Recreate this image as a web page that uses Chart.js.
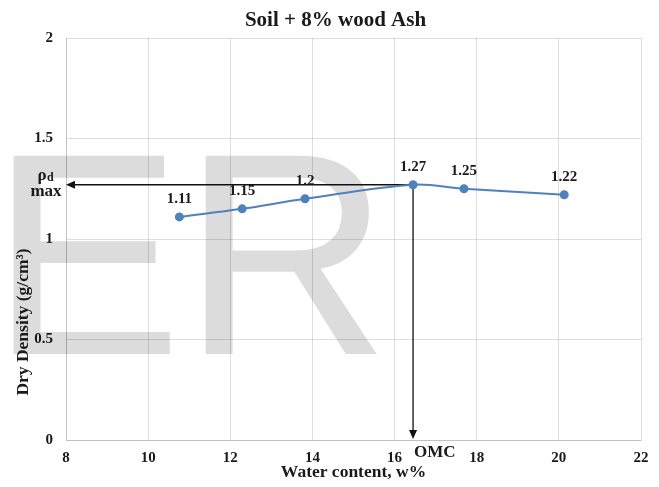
<!DOCTYPE html>
<html>
<head>
<meta charset="utf-8">
<script src="https://cdn.jsdelivr.net/npm/chart.js@4.4.1/dist/chart.umd.min.js"></script>
<style>
  html, body { margin: 0; padding: 0; background: #ffffff; }
  #c { display: block; background: #ffffff; }
</style>
</head>
<body>
<canvas id="c" width="659" height="487"></canvas>
<script>
// Compaction test: soil mixed with 8% wood ash
const chartTitle = 'Soil + 8% wood Ash';
const xAxisTitle = 'Water content, w%';
const yAxisTitle = 'Dry Density (g/cm³)';
const watermarkText = 'ER';

const waterContent = [10.76, 12.29, 13.82, 16.45, 17.69, 20.13];   // w, %
const dryDensity   = [1.11, 1.15, 1.2, 1.27, 1.25, 1.22];           // g/cm³
const densityLabels = ['1.11', '1.15', '1.2', '1.27', '1.25', '1.22'];

const xRange = [8, 22];
const xStep = 2;
const yRange = [0, 2];
const yStep = 0.5;

const SERIF = '"Liberation Serif", "Times New Roman", Times, serif';
const INK = '#1a1a1a';
const GRID = 'rgba(0,0,0,0.13)';
const SERIES_BLUE = '#4f81bd';

const points = waterContent.map((w, i) => ({ x: w, y: dryDensity[i] }));
const peak = dryDensity.indexOf(Math.max(...dryDensity));

function arrowHead(ctx, tipX, tipY, dir) {
  const len = 9, half = 4;
  ctx.beginPath();
  if (dir === 'left') {
    ctx.moveTo(tipX, tipY);
    ctx.lineTo(tipX + len, tipY - half);
    ctx.lineTo(tipX + len, tipY + half);
  } else {
    ctx.moveTo(tipX, tipY);
    ctx.lineTo(tipX - half, tipY - len);
    ctx.lineTo(tipX + half, tipY - len);
  }
  ctx.closePath();
  ctx.fill();
}

const decorations = {
  id: 'decorations',
  beforeDraw(chart) {
    const ctx = chart.ctx;
    ctx.save();
    ctx.fillStyle = '#dcdcdc';
    ctx.font = '288px "Liberation Sans", Arial, sans-serif';
    ctx.textBaseline = 'alphabetic';
    ctx.textAlign = 'left';
    ctx.fillText(watermarkText, -10, 354);
    ctx.restore();
  },
  beforeDatasetsDraw(chart) {
    // guide arrows from the maximum dry density point to both axes
    const { ctx, chartArea, scales } = chart;
    const px = scales.x.getPixelForValue(waterContent[peak]);
    const py = scales.y.getPixelForValue(dryDensity[peak]);
    ctx.save();
    ctx.strokeStyle = '#111111';
    ctx.fillStyle = '#111111';
    ctx.lineWidth = 1.3;
    ctx.beginPath();
    ctx.moveTo(px, py);
    ctx.lineTo(chartArea.left + 6, py);
    ctx.moveTo(px, py);
    ctx.lineTo(px, chartArea.bottom - 6);
    ctx.stroke();
    arrowHead(ctx, chartArea.left, py, 'left');
    arrowHead(ctx, px, chartArea.bottom - 1, 'down');
    ctx.restore();
  },
  afterDatasetsDraw(chart) {
    const { ctx, chartArea, scales } = chart;
    ctx.save();
    ctx.fillStyle = INK;
    ctx.textBaseline = 'alphabetic';

    // value labels above each point
    ctx.font = 'bold 15px ' + SERIF;
    ctx.textAlign = 'center';
    points.forEach((p, i) => {
      const x = scales.x.getPixelForValue(p.x);
      const y = scales.y.getPixelForValue(p.y);
      ctx.fillText(densityLabels[i], x, y - 14);
    });

    // ρd max marker next to the y axis
    const py = scales.y.getPixelForValue(dryDensity[peak]);
    const lx = chartArea.left - 20;
    ctx.font = 'bold 17px ' + SERIF;
    ctx.textAlign = 'right';
    ctx.fillText('ρ', lx + 0.5, py - 5);
    ctx.font = 'bold 12px ' + SERIF;
    ctx.textAlign = 'left';
    ctx.fillText('d', lx + 1, py - 4);
    ctx.font = 'bold 17px ' + SERIF;
    ctx.textAlign = 'center';
    ctx.fillText('max', lx, py + 11);

    // OMC marker under the x axis
    const px = scales.x.getPixelForValue(waterContent[peak]);
    ctx.textAlign = 'left';
    ctx.font = 'bold 17px ' + SERIF;
    ctx.fillText('OMC', px + 1, chartArea.bottom + 17);

    // chart title
    ctx.font = 'bold 21px ' + SERIF;
    ctx.textAlign = 'center';
    ctx.fillText(chartTitle, 335.5, 26);

    // y axis title
    ctx.translate(28, 322);
    ctx.rotate(-Math.PI / 2);
    ctx.font = 'bold 17.5px ' + SERIF;
    ctx.textAlign = 'center';
    ctx.fillText(yAxisTitle, 0, 0);
    ctx.restore();
  }
};

new Chart(document.getElementById('c'), {
  type: 'scatter',
  data: {
    datasets: [{
      data: points,
      showLine: true,
      tension: 0.35,
      borderColor: SERIES_BLUE,
      borderWidth: 2,
      backgroundColor: SERIES_BLUE,
      pointBackgroundColor: SERIES_BLUE,
      pointBorderColor: SERIES_BLUE,
      pointRadius: 3.5,
      pointHoverRadius: 3.5
    }]
  },
  options: {
    responsive: false,
    animation: false,
    events: [],
    layout: { padding: { top: 38, right: 18, left: 0, bottom: 0 } },
    plugins: {
      legend: { display: false },
      tooltip: { enabled: false },
      title: { display: false }
    },
    scales: {
      x: {
        type: 'linear',
        min: xRange[0],
        max: xRange[1],
        afterFit(s) { s.height = 47; },
        ticks: {
          stepSize: xStep,
          color: INK,
          padding: 9,
          maxRotation: 0,
          callback: (v) => String(v),
          font: { family: SERIF, size: 15, weight: 'bold' }
        },
        grid: { color: GRID, lineWidth: 1, drawTicks: false },
        border: { display: true, color: GRID },
        title: {
          display: true,
          text: xAxisTitle,
          color: INK,
          padding: { top: 5, bottom: 4 },
          font: { family: SERIF, size: 17.5, weight: 'bold' }
        }
      },
      y: {
        type: 'linear',
        min: yRange[0],
        max: yRange[1],
        afterFit(s) { s.width = 66; },
        ticks: {
          stepSize: yStep,
          color: INK,
          padding: 13,
          callback: (v) => String(Math.round(v * 10) / 10),
          font: { family: SERIF, size: 15, weight: 'bold' }
        },
        grid: { color: GRID, lineWidth: 1, drawTicks: false },
        border: { display: true, color: GRID }
      }
    }
  },
  plugins: [decorations]
});
</script>
</body>
</html>
